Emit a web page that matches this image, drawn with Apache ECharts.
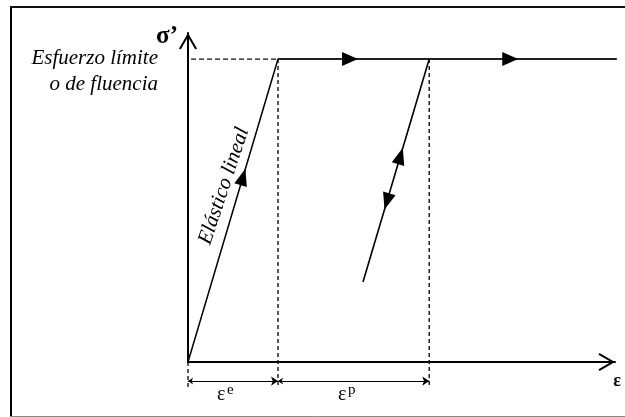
<!DOCTYPE html>
<html><head><meta charset="utf-8">
<script src="https://cdn.jsdelivr.net/npm/echarts@6/dist/echarts.min.js"></script>
<style>html,body{margin:0;padding:0;background:#fff}#c{width:625px;height:417px}</style>
</head><body><div id="c"></div>
<script>
// Strain normalised to the elastic (yield) strain, stress normalised to the yield stress
const loadingPath = [[0, 0], [1, 1], [4.77, 1]];          // elastic branch + plastic plateau
const unloadingPath = [[2.68, 1], [1.944, 0.264]];         // elastic unloading / reloading
const arrowsPlateau = [[1.8, 1], [3.58, 1]];               // flow arrows pointing right
const arrowsUpSlope = [[0.611, 0.611], [2.36, 0.68]];      // arrows pointing up the elastic slope
const arrowsDownSlope = [[2.21, 0.53]];                    // arrow pointing down (unloading)
const yieldGuide = [[-0.144, 1], [1, 1]];                  // dashed line at the yield stress
const guideX = [0, 1, 2.68];                               // vertical dashed guides
const guideTop = [0, 1, 1];
const guideBottom = [-0.09, -0.076, -0.076];
const dimSegments = [[0, 1], [1, 2.68]];                   // εe and εp extents
const dimLevel = -0.063;
const dimLabels = ['e', 'p'];
const axisMaxX = 4.744, axisMaxY = 1.086;

const chart = echarts.init(document.getElementById('c'), null, {renderer: 'canvas'});

const chevron = 'path://M9 0 L18 15.5 L16.27 16.5 L9 4 L1.73 16.5 L0 15.5 Z';
function axisCfg(min, max) {
  return {
    type: 'value', min: min, max: max,
    axisLine: {show: true, onZero: true, lineStyle: {color: '#000', width: 2},
      symbol: ['none', chevron], symbolSize: [18, 16.5], symbolOffset: [0, -8.25]},
    axisTick: {show: false}, axisLabel: {show: false}, splitLine: {show: false}
  };
}

const series = [];
series.push({type: 'line', data: loadingPath, symbol: 'none', clip: false, z: 3,
  lineStyle: {color: '#000', width: 1.5}});
series.push({type: 'line', data: loadingPath.slice(1), symbol: 'none', clip: false, z: 3,
  lineStyle: {color: '#222', width: 2}});
series.push({type: 'line', data: unloadingPath, symbol: 'none', clip: false, z: 3,
  lineStyle: {color: '#000', width: 1.6}});
series.push({type: 'line', data: yieldGuide, symbol: 'none', clip: false, z: 2,
  lineStyle: {color: '#111', width: 1.2, type: [5, 3]}});
guideX.forEach(function (x, i) {
  series.push({type: 'line', data: [[x, guideTop[i]], [x, guideBottom[i]]], symbol: 'none', clip: false, z: 2,
    lineStyle: {color: '#000', width: 1.3, type: [4, 3]}});
});
series.push({type: 'lines', coordinateSystem: 'cartesian2d', clip: false, z: 4,
  symbol: ['arrow', 'arrow'], symbolSize: [5, 7],
  lineStyle: {color: '#000', width: 1, opacity: 1},
  data: dimSegments.map(function (s) { return {coords: [[s[0], dimLevel], [s[1], dimLevel]]}; })});
const triStyle = {color: '#000', opacity: 1};
series.push({type: 'scatter', data: arrowsPlateau, symbol: 'triangle', symbolSize: [14, 16],
  symbolRotate: -90, itemStyle: triStyle, z: 5, silent: true});
series.push({type: 'scatter', data: arrowsUpSlope, symbol: 'triangle', symbolSize: [13, 17],
  symbolRotate: -16.5, itemStyle: triStyle, z: 5, silent: true});
series.push({type: 'scatter', data: arrowsDownSlope, symbol: 'triangle', symbolSize: [13, 17],
  symbolRotate: 163.5, itemStyle: triStyle, z: 5, silent: true});

const serif = 'Liberation Serif';
function txt(text, x, y, opts) {
  return {type: 'text', x: x, y: y, silent: true, z: 10,
    style: Object.assign({text: text, fill: '#000', fontFamily: serif, fontSize: 21,
      fontStyle: 'normal', fontWeight: 'normal', align: 'left', verticalAlign: 'middle'}, opts || {})};
}

const graphic = [
  {type: 'line', shape: {x1: 11, y1: 6, x2: 11, y2: 417}, style: {stroke: '#000', lineWidth: 2}, silent: true},
  {type: 'line', shape: {x1: 10, y1: 7, x2: 625, y2: 7}, style: {stroke: '#111', lineWidth: 2}, silent: true},
  {type: 'line', shape: {x1: 10, y1: 416.5, x2: 625, y2: 416.5}, style: {stroke: '#888', lineWidth: 1}, silent: true},
  txt('Esfuerzo límite', 158, 58, {fontStyle: 'italic', align: 'right'}),
  txt('o de fluencia', 158, 84, {fontStyle: 'italic', align: 'right'}),
  txt('σ’', 178, 37, {fontWeight: 'bold', fontSize: 25, align: 'right'}),
  txt('ε', 617, 381, {fontWeight: 'bold', fontSize: 18, align: 'center'}),
  Object.assign(txt('Elástico lineal', 224, 186, {fontStyle: 'italic', align: 'center'}), {rotation: 71.5 * Math.PI / 180}),
  txt('ε', 217, 395, {fontSize: 20}),
  txt(dimLabels[0], 227, 390, {fontSize: 15}),
  txt('ε', 338, 395, {fontSize: 20}),
  txt(dimLabels[1], 348, 390, {fontSize: 15})
];

chart.setOption({
  animation: false,
  backgroundColor: '#fff',
  grid: {left: 188, right: 10, top: 33, bottom: 55},
  xAxis: axisCfg(0, axisMaxX),
  yAxis: axisCfg(0, axisMaxY),
  series: series,
  graphic: graphic
});
</script>
</body></html>
